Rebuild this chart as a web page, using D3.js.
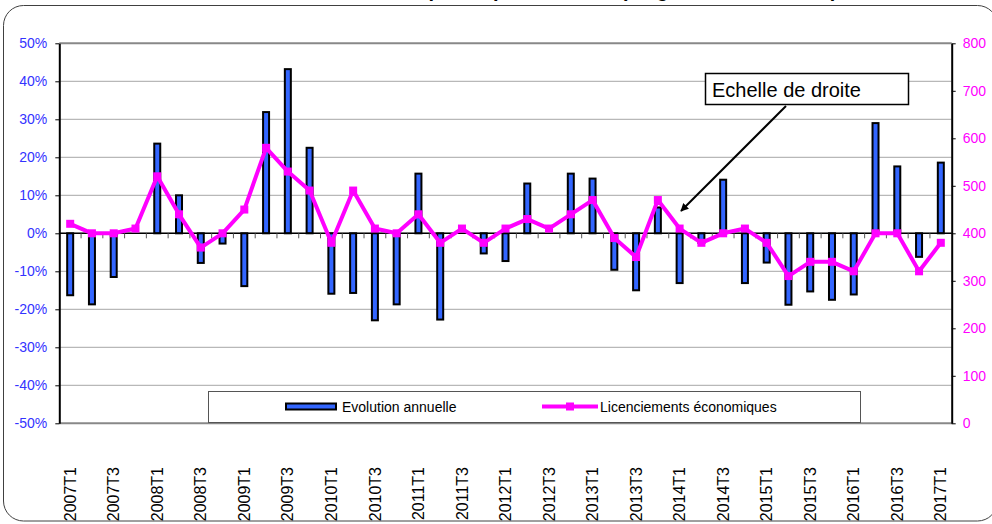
<!DOCTYPE html>
<html>
<head>
<meta charset="utf-8">
<script src="https://cdn.jsdelivr.net/npm/d3@7"></script>
<style>
  body { margin: 0; background: #fff; }
  svg { display: block; font-family: Arial, "Liberation Sans", sans-serif; }
</style>
</head>
<body>
<svg id="chart"></svg>
<script>
// Quarters (T = trimestre)
const quarters = [
  "2007T1", "2007T2", "2007T3", "2007T4", "2008T1", "2008T2", "2008T3", "2008T4",
  "2009T1", "2009T2", "2009T3", "2009T4", "2010T1", "2010T2", "2010T3", "2010T4",
  "2011T1", "2011T2", "2011T3", "2011T4", "2012T1", "2012T2", "2012T3", "2012T4",
  "2013T1", "2013T2", "2013T3", "2013T4", "2014T1", "2014T2", "2014T3", "2014T4",
  "2015T1", "2015T2", "2015T3", "2015T4", "2016T1", "2016T2", "2016T3", "2016T4",
  "2017T1"
];

// Evolution annuelle, in % (left scale)
const evolution = [
  -16.3, -18.7, -11.5, 0, 23.6, 10.0, -7.8, -2.7,
  -13.9, 31.9, 43.2, 22.5, -15.9, -15.7, -22.9, -18.7,
  15.7, -22.7, 0, -5.3, -7.3, 13.1, 0, 15.7,
  14.4, -9.6, -15.0, 6.8, -13.1, -2.5, 14.1, -13.1,
  -7.7, -18.8, -15.3, -17.5, -16.1, 29.0, 17.6, -6.2,
  18.6
];

// Licenciements économiques (right scale)
const licenciements = [
  420, 400, 400, 410, 520, 440, 370, 400,
  450, 580, 530, 490, 380, 490, 410, 400,
  440, 380, 410, 380, 410, 430, 410, 440,
  470, 390, 350, 470, 410, 380, 400, 410,
  380, 310, 340, 340, 320, 400, 400, 320,
  380
];

const leftTicks = [-50, -40, -30, -20, -10, 0, 10, 20, 30, 40, 50];
const rightTicks = [0, 100, 200, 300, 400, 500, 600, 700, 800];

const seriesNames = ["Evolution annuelle", "Licenciements économiques"];
const annotation = "Echelle de droite";
const title = "Défaillances d'entreprises par trimestre (en glissement annuel)";

const width = 992, height = 524;
const plot = { left: 59.3, right: 951.7, top: 43.3, bottom: 423.3 };

const svg = d3.select("#chart")
  .attr("width", width)
  .attr("height", height);

// outer chart frame
svg.append("rect")
  .attr("x", 3.5).attr("y", 5.5)
  .attr("width", 994).attr("height", 515.5)
  .attr("rx", 20).attr("ry", 20)
  .attr("fill", "#fff")
  .attr("stroke", "#404040")
  .attr("stroke-width", 1);

// title, mostly cut off at the top of the picture (as in the reference)
const titleText = svg.append("text")
  .attr("y", -3)
  .attr("font-size", 20)
  .attr("font-weight", "bold")
  .attr("fill", "#000")
  .text(title);
const parIdx = title.indexOf("par");
const offset = titleText.node().getSubStringLength(0, parIdx);
titleText.attr("x", 493 - offset);

// scales
const x = d3.scaleBand()
  .domain(quarters)
  .range([plot.left, plot.right]);

const yLeft = d3.scaleLinear()
  .domain([-50, 50])
  .range([plot.bottom, plot.top]);

const yRight = d3.scaleLinear()
  .domain([0, 800])
  .range([plot.bottom, plot.top]);

const cx = d => x(d) + x.bandwidth() / 2;

// gridlines
svg.append("g")
  .selectAll("line")
  .data(leftTicks.filter(t => t !== 50 && t !== -50))
  .enter()
  .append("line")
  .attr("x1", plot.left).attr("x2", plot.right)
  .attr("y1", d => yLeft(d)).attr("y2", d => yLeft(d))
  .attr("stroke", "#b8b8b8")
  .attr("stroke-width", 1.2);

// plot area border (top / bottom)
svg.append("line")
  .attr("x1", plot.left).attr("x2", plot.right)
  .attr("y1", plot.top).attr("y2", plot.top)
  .attr("stroke", "#888").attr("stroke-width", 2);
svg.append("line")
  .attr("x1", plot.left).attr("x2", plot.right)
  .attr("y1", plot.bottom).attr("y2", plot.bottom)
  .attr("stroke", "#888").attr("stroke-width", 2);

// legend box (sits on the bottom of the plot)
const legend = svg.append("g");
legend.append("rect")
  .attr("x", 208.5).attr("y", 391.5)
  .attr("width", 652).attr("height", 31)
  .attr("fill", "#fff")
  .attr("stroke", "#555")
  .attr("stroke-width", 1);

// bars
const barW = 6;
svg.append("g")
  .selectAll("rect")
  .data(quarters)
  .enter()
  .append("rect")
  .attr("x", d => cx(d) - barW / 2)
  .attr("width", barW)
  .attr("y", (d, i) => yLeft(Math.max(0, evolution[i])))
  .attr("height", (d, i) => Math.abs(yLeft(evolution[i]) - yLeft(0)))
  .attr("fill", "#3366ff")
  .attr("stroke", "#000")
  .attr("stroke-width", 2);

// zero axis with category tick marks
const y0 = yLeft(0);
svg.append("line")
  .attr("x1", plot.left).attr("x2", plot.right)
  .attr("y1", y0).attr("y2", y0)
  .attr("stroke", "#000").attr("stroke-width", 1.5);
svg.append("g")
  .selectAll("line")
  .data(quarters.slice(1))
  .enter()
  .append("line")
  .attr("x1", d => x(d)).attr("x2", d => x(d))
  .attr("y1", y0).attr("y2", y0 + 5)
  .attr("stroke", "#555").attr("stroke-width", 1);

// line series
const line = d3.line()
  .x((d, i) => cx(quarters[i]))
  .y(d => yRight(d));

svg.append("path")
  .datum(licenciements)
  .attr("d", line)
  .attr("fill", "none")
  .attr("stroke", "#ff00ff")
  .attr("stroke-width", 4)
  .attr("stroke-linejoin", "round");

svg.append("g")
  .selectAll("rect")
  .data(licenciements)
  .enter()
  .append("rect")
  .attr("x", (d, i) => cx(quarters[i]) - 4)
  .attr("y", d => yRight(d) - 4)
  .attr("width", 8).attr("height", 8)
  .attr("fill", "#ff00ff");

// left axis
const leftAxis = svg.append("g")
  .attr("transform", `translate(${plot.left},0)`)
  .call(d3.axisLeft(yLeft)
    .tickValues(leftTicks)
    .tickFormat(d => d + "%")
    .tickSize(4)
    .tickSizeOuter(0)
    .tickPadding(8));
leftAxis.select(".domain").attr("stroke", "#000").attr("stroke-width", 2);
leftAxis.selectAll(".tick line").attr("stroke", "#000");
leftAxis.selectAll(".tick text")
  .attr("fill", "#3333ff")
  .attr("font-size", 14)
  .attr("font-family", "Arial, 'Liberation Sans', sans-serif");

// right axis
const rightAxis = svg.append("g")
  .attr("transform", `translate(${plot.right},0)`)
  .call(d3.axisRight(yRight)
    .tickValues(rightTicks)
    .tickSize(4)
    .tickSizeOuter(0)
    .tickPadding(7));
rightAxis.select(".domain").attr("stroke", "#000").attr("stroke-width", 2);
rightAxis.selectAll(".tick line").attr("stroke", "#000");
rightAxis.selectAll(".tick text")
  .attr("fill", "#ff00ff")
  .attr("font-size", 14)
  .attr("font-family", "Arial, 'Liberation Sans', sans-serif");

// category labels, every second quarter
svg.append("g")
  .selectAll("text")
  .data(quarters.filter((d, i) => i % 2 === 0))
  .enter()
  .append("text")
  .attr("transform", d => `translate(${cx(d)},467) rotate(-90)`)
  .attr("text-anchor", "end")
  .attr("dy", "0.35em")
  .attr("font-size", 16)
  .attr("fill", "#000")
  .text(d => d);

// legend content
legend.append("rect")
  .attr("x", 286).attr("y", 403.5)
  .attr("width", 50).attr("height", 6)
  .attr("fill", "#3366ff")
  .attr("stroke", "#000").attr("stroke-width", 2);
legend.append("text")
  .attr("x", 342).attr("y", 412)
  .attr("font-size", 14)
  .text(seriesNames[0]);
legend.append("line")
  .attr("x1", 542).attr("x2", 598)
  .attr("y1", 406.5).attr("y2", 406.5)
  .attr("stroke", "#ff00ff").attr("stroke-width", 4);
legend.append("rect")
  .attr("x", 566).attr("y", 402.5)
  .attr("width", 8).attr("height", 8)
  .attr("fill", "#ff00ff");
legend.append("text")
  .attr("x", 600).attr("y", 412)
  .attr("font-size", 14)
  .text(seriesNames[1]);

// annotation box and arrow
svg.append("defs").append("marker")
  .attr("id", "arrow")
  .attr("viewBox", "0 0 10 10")
  .attr("refX", 9).attr("refY", 5)
  .attr("markerWidth", 8).attr("markerHeight", 8)
  .attr("markerUnits", "userSpaceOnUse")
  .attr("orient", "auto")
  .append("path")
  .attr("d", "M0,0 L10,5 L0,10 z")
  .attr("fill", "#000");

svg.append("line")
  .attr("x1", 786).attr("y1", 106)
  .attr("x2", 681).attr("y2", 211)
  .attr("stroke", "#000").attr("stroke-width", 2)
  .attr("marker-end", "url(#arrow)");

svg.append("rect")
  .attr("x", 705.5).attr("y", 73.5)
  .attr("width", 203).attr("height", 31)
  .attr("fill", "#fff")
  .attr("stroke", "#000").attr("stroke-width", 1.5);
svg.append("text")
  .attr("x", 712).attr("y", 97)
  .attr("font-size", 20)
  .text(annotation);
</script>
</body>
</html>
